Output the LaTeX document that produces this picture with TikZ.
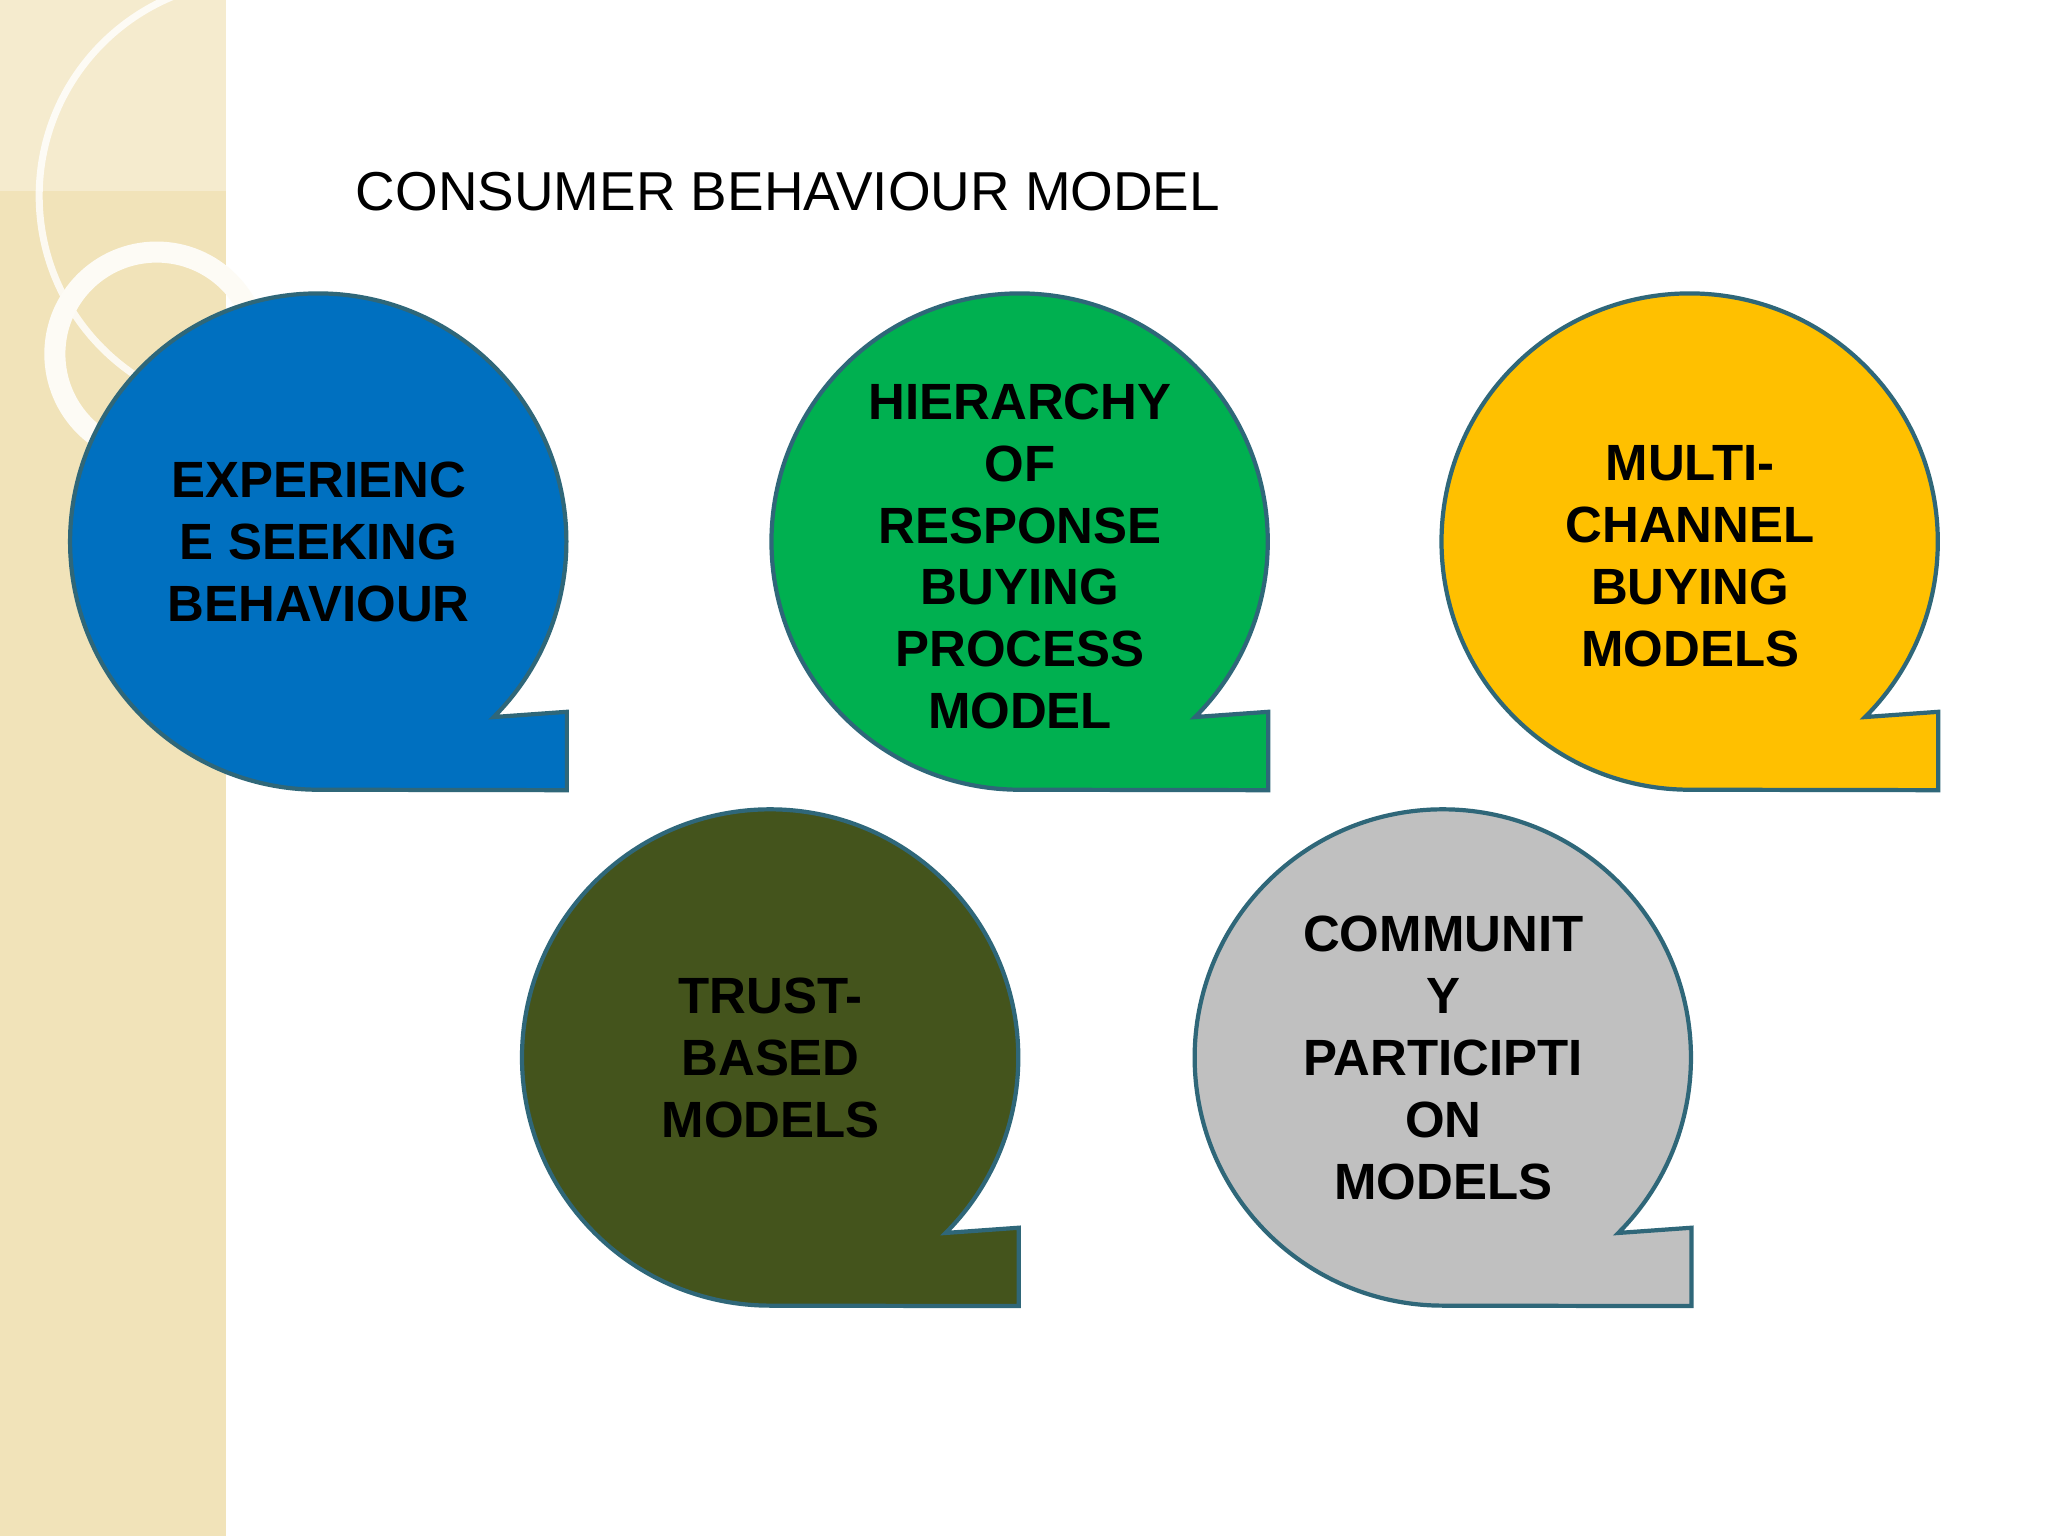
\documentclass[tikz,border=0pt]{standalone}
\usepackage{fontspec}
\setmainfont{Liberation Sans}
\begin{document}
\begin{tikzpicture}[x=0.01306cm,y=0.01306cm,
  lbl/.style={font=\bfseries\fontsize{14.5}{17.6}\selectfont, align=center, text=black},
  bub/.style={draw=bordercol, line width=1.2pt}]
\definecolor{bordercol}{HTML}{2F6779}
\definecolor{strip}{HTML}{F1E3B9}
\definecolor{cblue}{HTML}{0070C0}
\definecolor{cgreen}{HTML}{00B050}
\definecolor{cyellow}{HTML}{FFC000}
\definecolor{colive}{HTML}{44541C}
\definecolor{cgray}{HTML}{C0C0C0}
\useasboundingbox (0,0) rectangle (1568,1176);
\fill[white] (0,0) rectangle (1568,1176);
\fill[strip] (0,0) rectangle (173,1176);
\fill[strip!70!white] (0,1030) rectangle (173,1176);
\draw[white, line width=2pt, opacity=0.8] (195,1026) circle (165);
\draw[white!85!strip, line width=6pt] (120,905) circle (78);
% speech bubble: centre (cx,cy), radius 190
\newcommand{\bubble}[4]{%
  \filldraw[bub, fill=#3] ({#1+134},{#2-134}) arc (-45:270:190)
    -- ({#1+190},{#2-190}) -- ({#1+190},{#2-130}) -- cycle;
  \node[lbl] (#4) at (#1,#2) {};}
\node[font=\fontsize{15.6}{18}\selectfont, anchor=west] (title) at (263,1029) {CONSUMER BEHAVIOUR MODEL};
\bubble{244}{761}{cblue}{b1}
\bubble{781}{761}{cgreen}{b2}
\bubble{1294}{761}{cyellow}{b3}
\bubble{590}{366}{colive}{b4}
\bubble{1105}{366}{cgray}{b5}
\node[lbl] (t1) at (244,761) {EXPERIENC\\E SEEKING\\BEHAVIOUR};
\node[lbl] (t2) at (781,750) {HIERARCHY\\OF\\RESPONSE\\BUYING\\PROCESS\\MODEL};
\node[lbl] (t3) at (1294,750) {MULTI-\\CHANNEL\\BUYING\\MODELS};
\node[lbl] (t4) at (590,366) {TRUST-\\BASED\\MODELS};
\node[lbl] (t5) at (1105,366) {COMMUNIT\\Y\\PARTICIPTI\\ON\\MODELS};
\end{tikzpicture}
\end{document}
